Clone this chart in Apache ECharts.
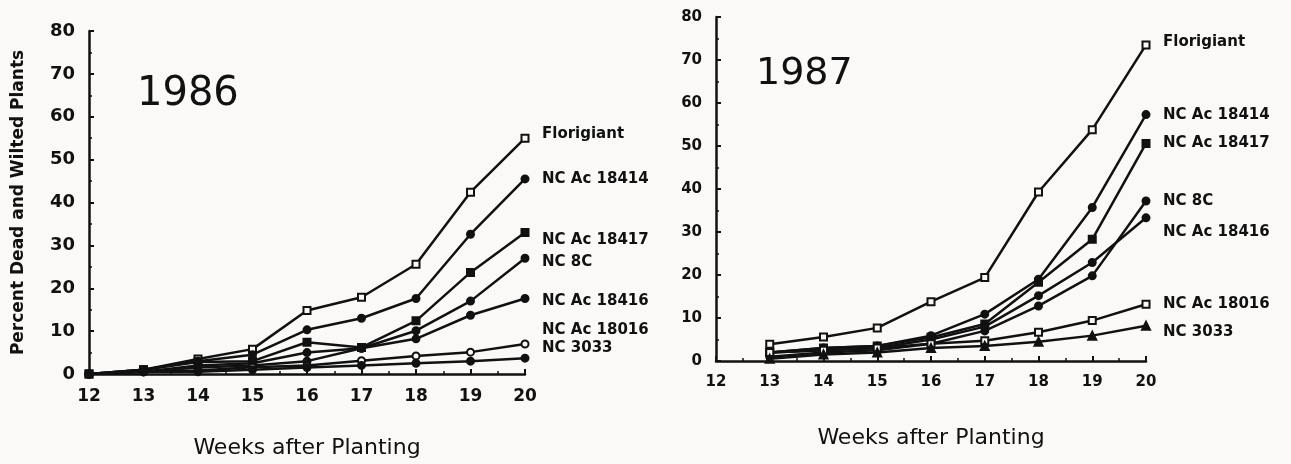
<!DOCTYPE html>
<html>
<head>
<meta charset="utf-8">
<script src="https://cdn.jsdelivr.net/npm/echarts@6/dist/echarts.min.js"></script>
<style>
html,body{margin:0;padding:0;background:#faf9f7;}
#chart{width:1291px;height:464px;}
</style>
</head>
<body>
<div id="chart"></div>
<script>
// ---- data ----
var weeks = [12, 13, 14, 15, 16, 17, 18, 19, 20];
var cultivars = ['Florigiant', 'NC Ac 18414', 'NC Ac 18417', 'NC 8C', 'NC Ac 18416', 'NC Ac 18016', 'NC 3033'];

var y1986_florigiant = [0, 1, 3.5, 5.8, 14.8, 17.9, 25.6, 42.4, 55];
var y1986_18414      = [0, 1, 3, 4.5, 10.3, 13, 17.6, 32.6, 45.5];
var y1986_18417      = [0, 1, 2.8, 3, 7.4, 6.2, 12.4, 23.7, 33];
var y1986_8C         = [0, 0.5, 2, 2.5, 5, 6, 10.1, 17, 27];
var y1986_18416      = [0, 0.5, 1.5, 2, 3, 6, 8.2, 13.7, 17.6];
var y1986_18016      = [0, 0.5, 0.8, 1.6, 2, 3.1, 4.2, 5.1, 7];
var y1986_3033       = [0, 0.5, 0.5, 1, 1.5, 2, 2.5, 3, 3.7];

var y1987_florigiant = [null, 3.9, 5.6, 7.7, 13.8, 19.4, 39.3, 53.8, 73.5];
var y1987_18414      = [null, 2, 3, 3.5, 5.9, 10.9, 19, 35.7, 57.3];
var y1987_18417      = [null, 2, 3, 3.5, 5.5, 8.6, 18.3, 28.3, 50.6];
var y1987_8C         = [null, 1, 2, 2.5, 4, 7, 12.8, 19.8, 37.2];
var y1987_18416      = [null, 2, 2.5, 3, 5, 8, 15.2, 22.9, 33.3];
var y1987_18016      = [null, 2, 2.5, 3, 4, 4.7, 6.7, 9.4, 13.2];
var y1987_3033       = [null, 0.5, 1.5, 2, 3, 3.5, 4.5, 5.9, 8.2];

var yTicks = [0, 10, 20, 30, 40, 50, 60, 70, 80];

// ---- styling ----
var data1986 = [y1986_florigiant, y1986_18414, y1986_18417, y1986_8C, y1986_18416, y1986_18016, y1986_3033];
var data1987 = [y1987_florigiant, y1987_18414, y1987_18417, y1987_8C, y1987_18416, y1987_18016, y1987_3033];
var symbols1986 = ['rect', 'circle', 'rect', 'circle', 'circle', 'circle', 'circle'];
var hollow1986  = [true, false, false, false, false, true, false];
var symbols1987 = ['rect', 'circle', 'rect', 'circle', 'circle', 'rect', 'triangle'];
var hollow1987  = [true, false, false, false, false, true, false];
var off1986 = [[9, -4], [9, 0], [9, 8], [9, 4], [9, 3], [9, -14], [9, -10]];
var off1987 = [[9, -3], [9, 0], [9, 0], [9, 0], [9, 14], [9, 0], [9, 6]];

var FONT = 'DejaVu Sans';
var INK = '#111';

function pairs(vals) {
  var out = [];
  for (var i = 0; i < weeks.length; i++) {
    if (vals[i] !== null) out.push([weeks[i], vals[i]]);
  }
  return out;
}

function makeSeries(dataArr, symbols, hollow, offs, idx) {
  return dataArr.map(function (vals, i) {
    return {
      name: cultivars[i],
      type: 'line',
      xAxisIndex: idx,
      yAxisIndex: idx,
      data: pairs(vals),
      symbol: symbols[i],
      symbolSize: symbols[i] === 'triangle' ? 8 : 7,
      showAllSymbol: true,
      lineStyle: { color: INK, width: 2.5 },
      itemStyle: { color: hollow[i] ? '#faf9f7' : INK, borderColor: INK, borderWidth: 2 },
      emphasis: { disabled: true },
      endLabel: {
        show: true,
        formatter: cultivars[i],
        offset: offs[i],
        color: INK,
        fontFamily: FONT,
        fontSize: 15,
        fontWeight: 'bold'
      },
      z: 3
    };
  });
}

function xAxisCfg(grid, size) {
  return {
    type: 'value', gridIndex: grid, min: 12, max: 20, interval: 1,
    axisLine: { show: true, lineStyle: { color: INK, width: 2.5 } },
    axisTick: { show: true, inside: true, length: 5, lineStyle: { color: INK, width: 2 } },
    minorTick: { show: true, splitNumber: 2, length: 3, lineStyle: { color: INK, width: 1.5 } },
    splitLine: { show: false },
    axisLabel: { color: INK, fontFamily: FONT, fontSize: size, fontWeight: 'bold', margin: 14 }
  };
}
function yAxisCfg(grid, size, margin) {
  return {
    type: 'value', gridIndex: grid, min: yTicks[0], max: yTicks[yTicks.length - 1], interval: 10,
    axisLine: { show: true, lineStyle: { color: INK, width: 2.5 } },
    axisTick: { show: true, inside: true, length: 5, lineStyle: { color: INK, width: 2 } },
    minorTick: { show: true, splitNumber: 2, length: 3, lineStyle: { color: INK, width: 1.5 } },
    splitLine: { show: false },
    axisLabel: { color: INK, fontFamily: FONT, fontSize: size, fontWeight: 'bold', margin: margin }
  };
}

var chart = echarts.init(document.getElementById('chart'));
chart.setOption({
  backgroundColor: '#faf9f7',
  animation: false,
  grid: [
    { left: 89, right: 766, top: 31, bottom: 89 },
    { left: 716, right: 145, top: 17, bottom: 103 }
  ],
  xAxis: [
    Object.assign(xAxisCfg(0, 17), { name: 'Weeks after Planting', nameLocation: 'middle', nameGap: 63,
      nameTextStyle: { color: INK, fontFamily: FONT, fontSize: 22 } }),
    Object.assign(xAxisCfg(1, 15), { name: 'Weeks after Planting', nameLocation: 'middle', nameGap: 66,
      nameTextStyle: { color: INK, fontFamily: FONT, fontSize: 22 } })
  ],
  yAxis: [
    Object.assign(yAxisCfg(0, 18, 14), { name: 'Percent Dead and Wilted Plants', nameLocation: 'middle', nameGap: 62,
      nameTextStyle: { color: INK, fontFamily: FONT, fontSize: 17, fontWeight: 'bold' } }),
    yAxisCfg(1, 15, 14)
  ],
  title: [
    { text: '1986', left: 132, top: 70, textStyle: { color: INK, fontFamily: FONT, fontSize: 40, fontWeight: 'normal' } },
    { text: '1987', left: 751, top: 50, textStyle: { color: INK, fontFamily: FONT, fontSize: 38, fontWeight: 'normal' } }
  ],
  series: makeSeries(data1986, symbols1986, hollow1986, off1986, 0)
    .concat(makeSeries(data1987, symbols1987, hollow1987, off1987, 1))
});
</script>
</body>
</html>
